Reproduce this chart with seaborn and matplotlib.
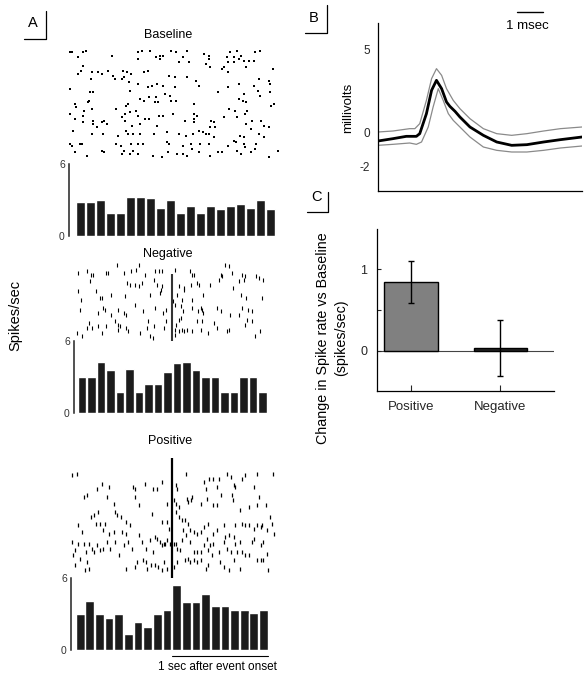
import numpy as np
import matplotlib
matplotlib.use("Agg")
import matplotlib.pyplot as plt
from matplotlib.lines import Line2D
import seaborn as sns

W, H = 588, 676

# ---------------- data ----------------
# PSTH bins: 100 ms bins from -1 s to +1 s around event onset
bin_centers = np.round(np.arange(-0.95, 1.0, 0.1), 2)
baseline_rate = [2.83, 2.83, 2.97, 1.90, 1.90, 3.29, 3.29, 3.14, 2.35, 2.97,
                 1.90, 2.49, 1.90, 2.49, 2.21, 2.49, 2.69, 2.35, 2.97, 2.21]
negative_rate = [3.04, 3.04, 4.28, 3.62, 1.77, 3.67, 1.77, 2.40, 2.40, 3.45,
                 4.20, 4.25, 3.62, 3.04, 3.04, 1.77, 1.77, 3.04, 3.04, 1.77]
positive_rate = [2.99, 4.10, 2.99, 2.63, 2.99, 1.30, 2.32, 1.93, 2.99, 3.30,
                 5.45, 4.00, 4.00, 4.69, 3.63, 3.63, 3.30, 3.30, 3.07, 3.30]

# raster spikes: time (s) and trial number
baseline_t = [
    -1.05, -1.03, -0.92, -0.89, -0.63, -0.37, -0.33, -0.25, -0.15, -0.04, 0.00, 0.11, 0.28, 0.33, 0.54, 0.61, 0.65, 0.79, 0.84,
    -0.97, -0.37, -0.19, -0.12, -0.15, 0.03, 0.13, 0.07, 0.33, 0.51, 0.58, 0.58, 0.63, 0.68, 0.73, 0.78, 0.52, 0.30,
    -0.92, -0.94, -0.97, -0.83, -0.77, -0.73, -0.67, -0.62, -0.52, -0.48, -0.44, -0.31, -0.27, -0.06, -0.01, 0.11, 0.34, 0.46, 0.48, 0.70, 0.97, 0.52,
    -0.84, -0.53, -0.51, -0.60, -0.46, -0.37, -0.27, -0.23, -0.18, -0.12, -0.01, 0.20, 0.23, 0.52, 0.63, 0.83, 0.93, 0.78, 0.94,
    -1.05, -0.85, -0.82, -0.45, -0.10, -0.05, 0.42, 0.68, 0.82, 0.84, 0.94,
    -0.86, -0.87, -1.00, -0.99, -0.49, -0.47, -0.35, -0.31, -0.26, -0.19, -0.20, -0.17, -0.04, 0.00, 0.18, 0.63, 0.67, 0.70, 0.95, 0.98,
    -1.05, -0.91, -0.92, -0.83, -0.59, -0.53, -0.50, -0.45, -0.39, -0.37, -0.30, -0.26, -0.16, -0.12, -0.02, 0.18, 0.21, 0.18, 0.48, 0.53, 0.59, 0.61, 0.69, 0.71,
    -1.00, -0.92, -0.82, -0.82, -0.78, -0.73, -0.71, -0.68, -0.50, -0.43, -0.35, -0.18, 0.09, 0.18, 0.35, 0.38, 0.34, 0.39, 0.70, 0.76, 0.85, 0.88, 0.93, 0.75,
    -1.02, -0.83, -0.72, -0.57, -0.49, -0.47, -0.42, -0.35, -0.21, -0.08, 0.03, 0.10, 0.17, 0.23, 0.27, 0.30, 0.33, 0.38, 0.64, 0.68, 0.83, 0.88,
    -1.05, -1.03, -0.95, -0.93, -0.59, -0.54, -0.44, -0.37, -0.32, -0.08, -0.06, 0.07, 0.15, 0.16, 0.24, 0.33, 0.52, 0.58, 0.60, 0.68, 0.69, 0.80, 0.79,
    -1.00, -0.88, -0.73, -0.71, -0.53, -0.51, -0.45, -0.42, -0.37, -0.22, -0.13, -0.07, 0.01, 0.07, 0.11, 0.23, 0.34, 0.42, 0.46, 0.61, 0.65, 0.75, 0.93, 1.02,
]
baseline_trial = [
    5, 5, 5, 4, 7, 5, 4, 4, 7, 4, 5, 4, 6, 7, 5, 4, 7, 5, 4,
    8, 9, 8, 7, 9, 11, 11, 8, 9, 8, 8, 11, 9, 10, 10, 10, 11, 12,
    13, 16, 18, 17, 17, 18, 16, 19, 16, 17, 18, 17, 16, 19, 20, 20, 14, 15, 14, 14, 15, 17,
    21, 21, 20, 21, 23, 24, 26, 25, 24, 25, 26, 22, 25, 26, 24, 21, 22, 25, 24,
    27, 29, 29, 28, 30, 31, 29, 30, 28, 31, 29,
    34, 35, 36, 38, 37, 36, 33, 34, 32, 32, 35, 35, 34, 34, 36, 33, 34, 35, 37, 36,
    42, 40, 43, 39, 39, 44, 42, 41, 40, 43, 45, 45, 43, 43, 42, 42, 43, 45, 44, 39, 40, 44, 42, 40,
    45, 47, 46, 48, 50, 47, 46, 48, 46, 49, 48, 49, 46, 47, 46, 47, 50, 50, 48, 46, 46, 49, 50, 51,
    52, 54, 54, 55, 52, 54, 54, 54, 54, 53, 54, 55, 54, 52, 53, 54, 54, 56, 55, 56, 54, 56,
    60, 61, 60, 60, 60, 61, 60, 60, 60, 59, 60, 61, 60, 63, 60, 60, 61, 58, 59, 60, 62, 60, 63,
    65, 67, 64, 65, 66, 64, 66, 64, 66, 67, 68, 65, 66, 66, 67, 65, 67, 65, 65, 64, 66, 65, 68, 64,
]

negative_t = [
    -0.58, -0.35, -0.18, -0.99, -0.90, -0.86, -0.83, -0.70, -0.68, -0.51, -0.43, -0.38, -0.29, -0.14, -0.11, 0.03,
    0.19, 0.21, 0.23, 0.49, 0.53, 0.56, 0.60, 0.63, 0.74, 0.76, 0.77, 0.88, 0.92, 0.96, 0.51,
    -0.87, -0.48, -0.44, -0.39, -0.35, -0.32, -0.19, -0.16, -0.11, 0.07, 0.13, 0.20, 0.26, 0.40, 0.64, 0.70, 0.28,
    -0.99, -0.96, -0.80, -0.76, -0.74, -0.64, -0.50, -0.23, -0.13, -0.12, 0.05, 0.10, 0.12, 0.21, 0.33, 0.73, 0.78, 0.95,
    -0.97, -0.78, -0.73, -0.71, -0.64, -0.57, -0.51, -0.49, -0.39, -0.31, -0.18, -0.10, -0.07, 0.01, 0.03,
    0.09, 0.11, 0.21, 0.27, 0.30, 0.31, 0.32, 0.47, 0.52, 0.61, 0.74, 0.80, 0.84, 0.70,
    -0.90, -0.88, -0.85, -0.78, -0.74, -0.70, -0.60, -0.57, -0.55, -0.49, -0.47, -0.27, -0.25, -0.19, -0.09,
    -0.07, 0.04, 0.07, 0.09, 0.03, 0.10, 0.13, 0.16, 0.21, 0.26, 0.31, 0.30, 0.38, 0.44, 0.47,
    0.58, 0.60, 0.77, 0.79, 0.84, 0.87, 0.93, -1.00, -0.95, -0.57, -0.34, -0.23, -0.20, 0.03, 0.07,
]
negative_trial = [
    4, 4, 8, 9, 8, 10, 10, 9, 9, 9, 8, 7, 10, 8, 8, 7,
    8, 10, 10, 13, 11, 4, 5, 9, 10, 13, 11, 11, 12, 13, 10,
    14, 15, 16, 16, 17, 15, 13, 16, 17, 17, 18, 16, 15, 16, 18, 14, 16,
    20, 25, 20, 24, 24, 22, 23, 22, 21, 19, 22, 25, 19, 25, 22, 22, 24, 24,
    31, 33, 30, 31, 34, 31, 33, 34, 28, 32, 30, 33, 31, 26, 28,
    29, 32, 30, 32, 30, 31, 33, 30, 32, 34, 30, 31, 32, 34,
    42, 39, 42, 41, 45, 41, 38, 40, 41, 42, 44, 42, 38, 41, 42,
    38, 40, 37, 36, 43, 43, 44, 43, 44, 38, 38, 43, 45, 39, 42,
    44, 43, 40, 37, 38, 47, 44, 45, 47, 43, 45, 47, 48, 46, 44,
]

positive_t = [
    -1.03, -0.98, 0.15, 0.57, 0.61, 0.39, 0.43, 0.49, 0.33, 0.76, 0.73, 0.88, 1.05,
    -0.72, -0.65, -0.40, -0.38, -0.28, -0.19, -0.15, -0.10, 0.04, 0.05, 0.64, 0.66, 0.35, 0.47, 0.85,
    -0.91, -0.88, -0.78, -0.67, -0.60, -0.38, -0.34, -0.21, -0.05, 0.02, 0.04, 0.07, 0.16, 0.17, 0.20,
    0.30, 0.36, 0.43, 0.47, 0.51, 0.62, 0.63, 0.71, 0.80, 0.88, 0.90, 0.98, 1.02, 0.21,
    -0.84, -0.81, -0.76, -0.79, -0.74, -0.69, -0.71, -0.59, -0.57, -0.53, -0.48, -0.43, -0.65, -0.60, -0.52, -0.48,
    -0.59, -0.10, -0.05, -0.03, 0.04, 0.07, 0.11, 0.14, 0.17, 0.19, 0.23, 0.26, 0.30, 0.33, 0.38, 0.43,
    0.47, 0.54, 0.59, 0.66, 0.73, 0.76, 0.80, 0.85, 0.88, 0.92, 0.93, 0.99, 1.04, 1.06, -0.97, -0.93,
    -1.03, -1.00, -0.97, -0.91, -0.89, -0.86, -0.83, -0.81, -0.78, -0.74, -0.71, -0.67, -0.64, -0.55, -0.50, -0.45,
    -0.41, -0.34, -0.31, -0.27, -0.23, -0.19, -0.17, -0.15, -0.12, -0.10, -0.08, -0.07, -0.05, -0.02, 0.02, 0.04,
    0.05, 0.09, 0.11, 0.12, 0.15, 0.19, 0.23, 0.26, 0.30, 0.33, 0.36, 0.38, 0.40, 0.43, 0.49, 0.54,
    0.55, 0.57, 0.61, 0.64, 0.66, 0.68, 0.71, 0.73, 0.76, 0.80, 0.83, 0.85, 0.92, 0.95, 0.99,
    -1.02, -0.95, -0.88, -0.86, -0.90, -1.00, -0.48, -0.38, -0.36, -0.30, -0.27, -0.26, -0.22, -0.17, -0.14, -0.10,
    -0.08, -0.05, 0.02, 0.05, 0.14, 0.17, 0.19, 0.23, 0.26, 0.30, 0.35, 0.38, 0.50, 0.54, 0.59, 0.64,
    0.71, 0.88, 0.92, 0.95, 1.00, 0.42,
]
positive_trial = [
    14, 13, 13, 13, 15, 16, 16, 16, 18, 14, 16, 13, 13,
    19, 21, 21, 22, 19, 22, 22, 18, 20, 22, 20, 21, 22, 21, 21,
    27, 26, 22, 27, 31, 27, 32, 37, 31, 29, 31, 33, 28, 30, 29,
    31, 28, 32, 32, 26, 26, 29, 35, 33, 32, 27, 32, 39, 27,
    39, 38, 36, 43, 43, 43, 47, 36, 38, 39, 42, 44, 49, 48, 48, 49,
    54, 42, 42, 46, 36, 39, 41, 41, 43, 47, 48, 49, 48, 45, 43, 49,
    47, 44, 50, 44, 43, 44, 44, 46, 44, 45, 44, 47, 43, 49, 44, 48,
    54, 59, 55, 55, 60, 55, 58, 60, 56, 59, 58, 54, 58, 62, 56, 54,
    58, 50, 54, 58, 53, 60, 51, 52, 54, 56, 55, 55, 53, 55, 55, 55,
    58, 59, 53, 47, 50, 54, 60, 60, 60, 56, 52, 59, 56, 55, 60, 54,
    51, 58, 60, 51, 55, 60, 54, 60, 62, 62, 54, 52, 56, 54, 61,
    62, 64, 66, 70, 71, 68, 70, 69, 66, 65, 66, 70, 68, 68, 69, 71,
    66, 70, 69, 66, 65, 64, 66, 65, 66, 65, 70, 68, 66, 69, 71, 65,
    70, 65, 65, 65, 71, 62,
]

# B: spike waveform (msec, millivolts)
wave_ms = [0.00, 0.58, 1.10, 1.49, 1.62, 1.88, 2.08, 2.27, 2.47, 2.66, 2.79, 2.99, 3.18,
           3.57, 4.09, 4.61, 5.19, 5.78, 6.43, 7.08, 7.92]
wave_mean = [-0.50, -0.36, -0.22, -0.22, -0.06, 1.14, 2.54, 3.14, 2.64, 1.84, 1.58, 1.28, 0.94,
             0.34, -0.16, -0.56, -0.76, -0.72, -0.56, -0.42, -0.26]
upper_ms = [0.00, 0.58, 1.23, 1.43, 1.62, 1.88, 2.08, 2.27, 2.47, 2.66, 2.92, 3.18, 3.57,
            4.09, 4.61, 5.19, 5.78, 6.43, 7.08, 7.92]
wave_upper = [0.04, 0.10, 0.24, 0.24, 0.54, 1.94, 3.24, 3.84, 3.44, 2.64, 1.94, 1.44, 0.84,
              0.24, -0.06, -0.16, -0.06, 0.10, 0.24, 0.34]
lower_ms = [0.00, 0.58, 1.23, 1.49, 1.69, 1.95, 2.14, 2.34, 2.53, 2.73, 2.92, 3.18, 3.57,
            4.09, 4.61, 5.19, 5.78, 6.43, 7.08, 7.92]
wave_lower = [-0.76, -0.70, -0.62, -0.70, -0.56, 0.34, 1.54, 2.64, 1.94, 1.14, 0.74, 0.34, -0.26,
              -0.86, -1.06, -1.16, -1.16, -1.06, -0.92, -0.80]

# C: change in spike rate vs baseline
conditions = ["Positive", "Negative"]
change_mean = [0.84, 0.035]
change_err = [0.26, 0.345]

# ---------------- figure ----------------
sns.set_theme(style="white")
plt.rcParams['font.family'] = ['Liberation Sans', 'DejaVu Sans']
plt.rcParams['text.color'] = 'black'

fig = plt.figure(figsize=(W / 100, H / 100), dpi=100)


def px_axes(left, top, right, bottom):
    return fig.add_axes([left / W, 1 - bottom / H, (right - left) / W, (bottom - top) / H])


def px_text(x, y, s, **kw):
    kw.setdefault('ha', 'center')
    kw.setdefault('va', 'center')
    fig.text(x / W, 1 - y / H, s, **kw)


def px_line(xs, ys, **kw):
    fig.add_artist(Line2D([x / W for x in xs], [1 - y / H for y in ys],
                          transform=fig.transFigure, **kw))


def psth(raster_box, hist_box, t_lim, trial_lim, times, trials, rate, marker, msize, mlw):
    axr = px_axes(*raster_box)
    sns.scatterplot(x=times, y=trials, marker=marker, s=msize, color='black',
                    linewidth=mlw, ax=axr, legend=False)
    axr.set_xlim(t_lim)
    axr.set_ylim(trial_lim)
    axr.axis('off')

    axh = px_axes(*hist_box)
    sns.barplot(x=bin_centers, y=rate, native_scale=True, width=0.9, color='#1c1c1c',
                saturation=1, errorbar=None, ax=axh)
    axh.set_xlim(t_lim)
    axh.set_ylim(0, 6)
    axh.set_yticks([0, 6])
    axh.set_yticklabels(['0', '6'])
    axh.set_xticks([])
    axh.set_xlabel('')
    axh.set_ylabel('')
    axh.tick_params(axis='y', left=False, length=0, pad=3, labelsize=7.5, labelcolor='#333333')
    for side in ['top', 'right', 'bottom']:
        axh.spines[side].set_visible(False)
    axh.spines['left'].set_color('#222222')
    axh.spines['left'].set_linewidth(1.1)
    return axr, axh


# A: rasters + PSTHs
psth((69, 47, 280, 160), (69, 164, 280, 236), (-1.06, 1.04), (69.6, 1.8),
     baseline_t, baseline_trial, baseline_rate, 's', 2.2, 0)
axr_n, axh_n = psth((74, 260, 267, 340), (74, 341, 267, 413), (-1.035, 1.0), (49.2, 1.2),
                    negative_t, negative_trial, negative_rate, '|', 5, 0.8)
axr_n.vlines(0, 9.6, 54, color='#333333', lw=1.5, clip_on=False)
axr_p, axh_p = psth((71, 455, 276, 575), (71, 578, 276, 650), (-1.045, 1.08), (73.8, 1.8),
                    positive_t, positive_trial, positive_rate, '|', 8, 0.9)
axr_p.vlines(0, 3.6, 75.6, color='black', lw=1.6, clip_on=False)
axh_p.plot([0, 1.0], [-0.5, -0.5], color='black', lw=0.8, clip_on=False)
axh_p.text(0.47, -1.42, '1 sec after event onset', ha='center', va='center', fontsize=8.5)

px_text(168, 35, 'Baseline', fontsize=9)
px_text(168, 254, 'Negative', fontsize=9)
px_text(170, 441, 'Positive', fontsize=9)
px_text(15, 315, 'Spikes/sec', rotation=90, fontsize=10.5)

# B: waveform
axB = px_axes(378, 23, 582, 191)
sns.lineplot(x=upper_ms, y=wave_upper, color='#8a8a8a', linewidth=0.9, ax=axB)
sns.lineplot(x=lower_ms, y=wave_lower, color='#8a8a8a', linewidth=0.9, ax=axB)
sns.lineplot(x=wave_ms, y=wave_mean, color='black', linewidth=2.0, ax=axB)
axB.set_xlim(0, 7.92)
axB.set_ylim(-3.5, 6.58)
axB.set_xticks([])
axB.set_yticks([-2, 0, 5])
axB.set_yticklabels(['-2', '0', '5'])
axB.tick_params(axis='y', left=False, length=0, pad=6, labelsize=8.5)
for side in ['top', 'right']:
    axB.spines[side].set_visible(False)
for side in ['left', 'bottom']:
    axB.spines[side].set_color('black')
    axB.spines[side].set_linewidth(0.9)
axB.plot([5.4, 6.4], [7.25, 7.25], color='black', lw=1.0, clip_on=False)
axB.text(5.8, 6.4, '1 msec', ha='center', va='center', fontsize=9.5)
px_text(348, 108, 'millivolts', rotation=90, fontsize=9.5)

# C: change in spike rate
axC = px_axes(377, 229, 554, 391)
sns.barplot(x=conditions, y=change_mean, hue=conditions, palette=['#808080', '#222222'],
            legend=False, width=0.6, edgecolor='black', linewidth=1.0, saturation=1, ax=axC)
axC.errorbar([0, 1], change_mean, yerr=change_err, fmt='none', ecolor='black',
             elinewidth=1.0, capsize=2, capthick=1.0)
axC.axhline(0, color='#444444', lw=0.8, zorder=0)
axC.set_xlim(-0.38, 1.6)
axC.set_ylim(-0.49, 1.49)
axC.set_yticks([0, 0.5, 1])
axC.set_yticklabels(['0', '', '1'])
axC.set_xlabel('')
axC.set_ylabel('')
axC.tick_params(axis='y', left=True, direction='in', length=3, width=0.8, pad=7, labelsize=9)
axC.tick_params(axis='x', bottom=True, direction='in', length=4.5, width=0.8, pad=7, labelsize=9.5)
for side in ['top', 'right']:
    axC.spines[side].set_visible(False)
for side in ['left', 'bottom']:
    axC.spines[side].set_color('black')
    axC.spines[side].set_linewidth(0.9)
px_text(332, 338, 'Change in Spike rate vs Baseline\n(spikes/sec)', rotation=90,
        fontsize=10.3, linespacing=1.35)

# panel letters with corner brackets
px_text(33, 23, 'A', fontsize=10.5)
px_line([24, 46, 46], [39, 39, 11], color='black', lw=0.9)
px_text(314, 18, 'B', fontsize=10.5)
px_line([305, 327, 327], [33, 33, 5], color='black', lw=0.9)
px_text(317, 197, 'C', fontsize=10.5)
px_line([307, 328, 328], [212, 212, 192], color='black', lw=0.9)

fig.savefig('out.png', dpi=100)
